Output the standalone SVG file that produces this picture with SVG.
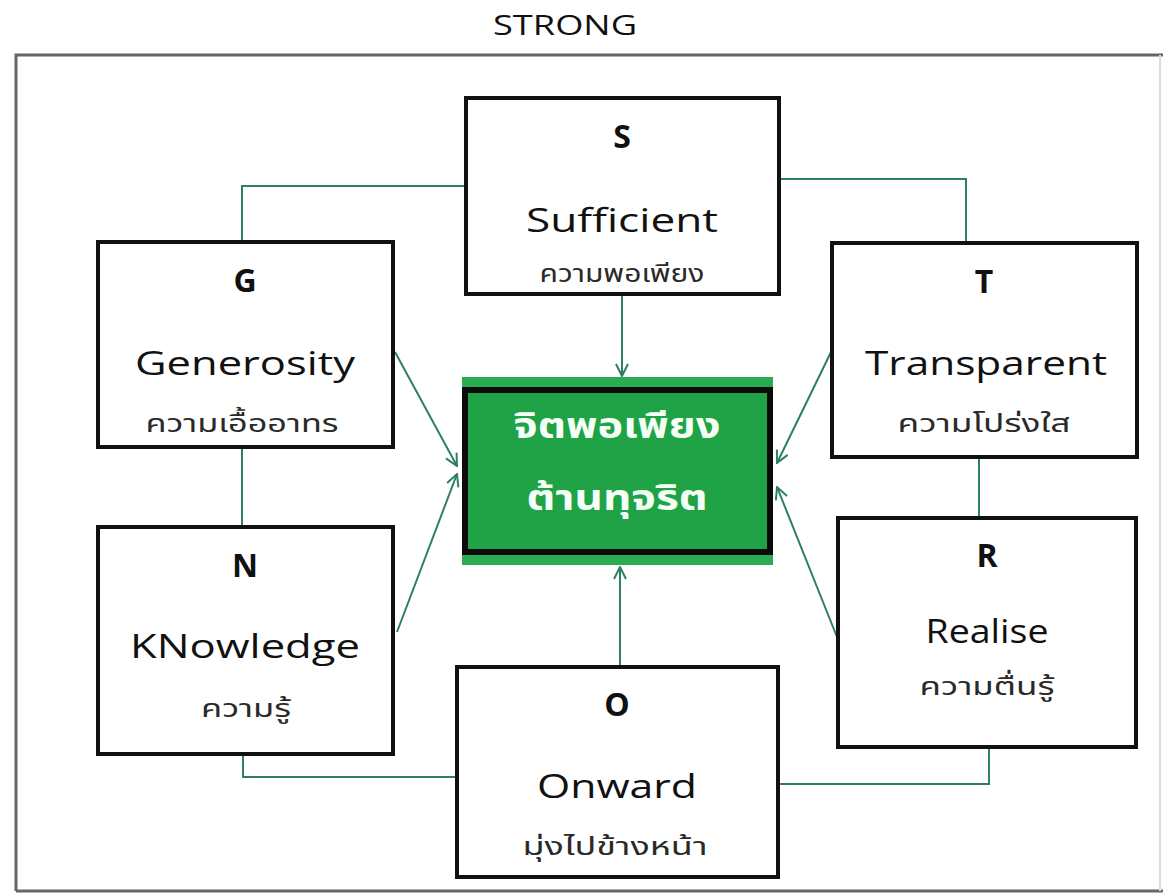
<svg xmlns="http://www.w3.org/2000/svg" width="1163" height="895" viewBox="0 0 1163 895">
<defs>
<style>
.box{fill:#ffffff;stroke:#111111;stroke-width:4}
.con{fill:none;stroke:#2f7f62;stroke-width:2}
.let{font-family:"Open Sans","Noto Sans",sans-serif;font-weight:700;font-size:32px;fill:#111;text-anchor:middle}
.word{font-family:"Open Sans","Noto Sans",sans-serif;font-size:32px;fill:#111;text-anchor:middle}
.th{font-family:"Noto Sans Thai","Noto Sans Thai UI","Loma","Garuda","Tlwg Typo","DejaVu Sans",sans-serif;font-size:25px;fill:#2a2a2a;text-anchor:middle}
.thc{font-family:"Noto Sans Thai","Noto Sans Thai UI","Loma","Garuda","DejaVu Sans",sans-serif;font-size:36px;font-weight:700;fill:#f4fff6;text-anchor:middle}
.title{font-family:"Open Sans","Noto Sans",sans-serif;font-size:28px;fill:#111;text-anchor:middle}
</style>
<marker id="arr" viewBox="0 0 14 14" refX="13" refY="7" markerWidth="14" markerHeight="14" markerUnits="userSpaceOnUse" orient="auto">
<path d="M1,1 L13,7 L1,13" fill="none" stroke="#2f7f62" stroke-width="2"/>
</marker>
</defs>
<rect x="0" y="0" width="1163" height="895" fill="#ffffff"/>
<g id="frame" fill="none" stroke="#666" stroke-width="3">
<path d="M16,891 L16,55 L1163,55"/>
<path d="M16,891 L1163,891"/>
<path d="M1160,55 L1160,891" stroke="#ddd" stroke-width="2"/>
</g>
<text class="title" x="565" y="35" textLength="144" lengthAdjust="spacingAndGlyphs">STRONG</text>
<g id="connectors">
<path class="con" d="M242,242 L242,186 L466,186"/>
<path class="con" d="M779,179 L966,179 L966,243"/>
<path class="con" d="M242,447 L242,527"/>
<path class="con" d="M979,457 L979,518"/>
<path class="con" d="M243,754 L243,777 L457,777"/>
<path class="con" d="M989,747 L989,784 L778,784"/>
<path class="con" d="M622,296 L622,376" marker-end="url(#arr)"/>
<path class="con" d="M620,666 L620,567" marker-end="url(#arr)"/>
<path class="con" d="M395,352 L457,466" marker-end="url(#arr)"/>
<path class="con" d="M397,632 L457,474" marker-end="url(#arr)"/>
<path class="con" d="M832,350 L777,463" marker-end="url(#arr)"/>
<path class="con" d="M837,637 L777,487" marker-end="url(#arr)"/>
</g>
<g id="node-center">
<rect x="462" y="377" width="311" height="188" fill="#2aad52"/>
<rect x="465" y="390" width="305" height="162" fill="#20a347" stroke="#0b0b0b" stroke-width="6"/>
<text class="thc" x="617" y="438" textLength="207" lengthAdjust="spacingAndGlyphs">จิตพอเพียง</text>
<text class="thc" x="617" y="510" textLength="181" lengthAdjust="spacingAndGlyphs">ต้านทุจริต</text>
</g>
<g id="node-S">
<rect class="box" x="466" y="98" width="313" height="196"/>
<text class="let" x="622" y="148">S</text>
<text class="word" x="622" y="232" textLength="192" lengthAdjust="spacingAndGlyphs">Sufficient</text>
<text class="th" x="622" y="282" textLength="165" lengthAdjust="spacingAndGlyphs">ความพอเพียง</text>
</g>
<g id="node-G">
<rect class="box" x="98" y="242" width="295" height="205"/>
<text class="let" x="245" y="292">G</text>
<text class="word" x="245" y="375" textLength="220" lengthAdjust="spacingAndGlyphs">Generosity</text>
<text class="th" x="242" y="432" textLength="193" lengthAdjust="spacingAndGlyphs">ความเอื้ออาทร</text>
</g>
<g id="node-T">
<rect class="box" x="832" y="243" width="305" height="214"/>
<text class="let" x="984" y="293">T</text>
<text class="word" x="986" y="375" textLength="242" lengthAdjust="spacingAndGlyphs">Transparent</text>
<text class="th" x="984" y="432" textLength="173" lengthAdjust="spacingAndGlyphs">ความโปร่งใส</text>
</g>
<g id="node-N">
<rect class="box" x="98" y="527" width="295" height="227"/>
<text class="let" x="245" y="577">N</text>
<text class="word" x="245" y="658" textLength="230" lengthAdjust="spacingAndGlyphs">KNowledge</text>
<text class="th" x="246" y="717" textLength="90" lengthAdjust="spacingAndGlyphs">ความรู้</text>
</g>
<g id="node-R">
<rect class="box" x="838" y="518" width="298" height="229"/>
<text class="let" x="987" y="567">R</text>
<text class="word" x="987" y="643" textLength="123" lengthAdjust="spacingAndGlyphs">Realise</text>
<text class="th" x="987" y="695" textLength="135" lengthAdjust="spacingAndGlyphs">ความตื่นรู้</text>
</g>
<g id="node-O">
<rect class="box" x="457" y="667" width="321" height="210"/>
<text class="let" x="617" y="716">O</text>
<text class="word" x="617" y="798" textLength="160" lengthAdjust="spacingAndGlyphs">Onward</text>
<text class="th" x="615" y="855" textLength="185" lengthAdjust="spacingAndGlyphs">มุ่งไปข้างหน้า</text>
</g>
</svg>
